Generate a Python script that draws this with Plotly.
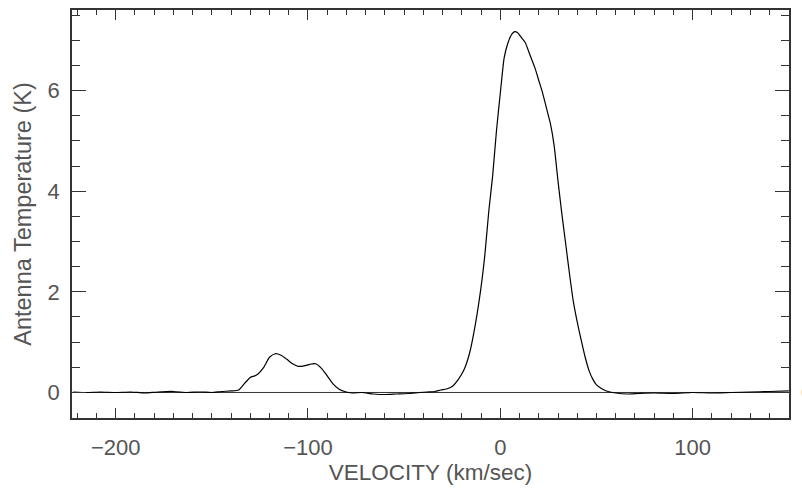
import plotly.graph_objects as go

velocity = [-222, -215, -208, -200, -192, -185, -178, -170, -163, -156, -150, -145, -140, -136,
            -133, -130, -127, -123, -120, -117, -114, -111, -108, -105, -102, -99, -96, -93, -90,
            -87, -84, -81, -77, -72, -66, -60, -54, -48, -42, -38, -34, -31, -28, -25, -22, -19,
            -16, -13, -10, -8, -6, -4, -2, 0, 2, 4, 6, 7.5, 9, 11, 13, 15, 18, 20, 22, 24, 26, 28,
            30, 32, 34, 36, 38, 40, 42, 44, 46, 48, 50, 53, 56, 60, 66, 72, 80, 90, 100, 110, 120,
            130, 140, 150]
temperature = [0.01, 0.0, 0.01, 0.0, 0.01, -0.01, 0.01, 0.02, 0.0, 0.01, 0.0, 0.02, 0.03, 0.05,
               0.18, 0.30, 0.34, 0.50, 0.70, 0.77, 0.74, 0.66, 0.57, 0.52, 0.53, 0.56, 0.57, 0.48, 0.33,
               0.17, 0.07, 0.02, -0.01, 0.0, -0.03, -0.04, -0.03, -0.02, 0.0, 0.01, 0.02, 0.05, 0.07,
               0.12, 0.25, 0.44, 0.78, 1.35, 2.1, 2.75, 3.6, 4.3, 5.2, 5.95, 6.65, 6.95, 7.12, 7.17,
               7.15, 7.05, 6.95, 6.75, 6.45, 6.2, 5.95, 5.65, 5.35, 4.9, 4.2, 3.55, 2.95, 2.35, 1.8,
               1.4, 1.05, 0.72, 0.45, 0.27, 0.15, 0.07, 0.02, -0.01, -0.03, -0.02, -0.01, -0.02, 0.0,
               -0.01, 0.0, 0.01, 0.02, 0.03]

x_range = [-222.7, 150.1]
y_range = [-0.507, 7.6]
text_color = "#555555"
font_family = "Liberation Sans, Arial, sans-serif"

fig = go.Figure()
fig.add_trace(go.Scatter(x=x_range, y=[0, 0], mode="lines",
                         line=dict(color="#333333", width=1), hoverinfo="skip", showlegend=False))
fig.add_trace(go.Scatter(x=velocity, y=temperature, mode="lines", line_shape="spline",
                         line=dict(color="black", width=1.2, smoothing=0.6), showlegend=False))

fig.update_layout(
    width=802, height=489,
    margin=dict(l=72, r=13, t=8, b=70),
    plot_bgcolor="white", paper_bgcolor="white",
    font=dict(family=font_family, size=22, color=text_color),
    xaxis=dict(range=x_range, showgrid=False, zeroline=False, showline=True,
               linecolor="#333333", linewidth=1.5, mirror="ticks",
               ticks="inside", ticklen=10, tickwidth=1.2, tickcolor="#333333",
               tickvals=[-200, -100, 0, 100], ticktext=["\u2212200", "\u2212100", "0", "100"],
               ticklabelstandoff=9,
               minor=dict(dtick=10, tick0=0, ticks="inside", ticklen=5, tickcolor="#333333", tickwidth=1),
               title=dict(text="VELOCITY (km/sec)", standoff=5, font=dict(size=22.5, color=text_color))),
    yaxis=dict(range=y_range, showgrid=False, zeroline=False, showline=True,
               linecolor="#333333", linewidth=1.5, mirror="ticks",
               ticks="inside", ticklen=14, tickwidth=1.2, tickcolor="#333333",
               tickvals=[0, 2, 4, 6], ticklabelstandoff=6,
               minor=dict(dtick=0.5, tick0=0, ticks="inside", ticklen=8, tickcolor="#333333", tickwidth=1),
               title=dict(text="Antenna Temperature (K)", standoff=9, font=dict(size=23.5, color=text_color))),
    annotations=[dict(text="0", x=1.0139, y=0, xref="paper", yref="y", xanchor="left",
                      yanchor="middle", showarrow=False, font=dict(size=22, color=text_color))],
)

fig.write_html("out.html")
